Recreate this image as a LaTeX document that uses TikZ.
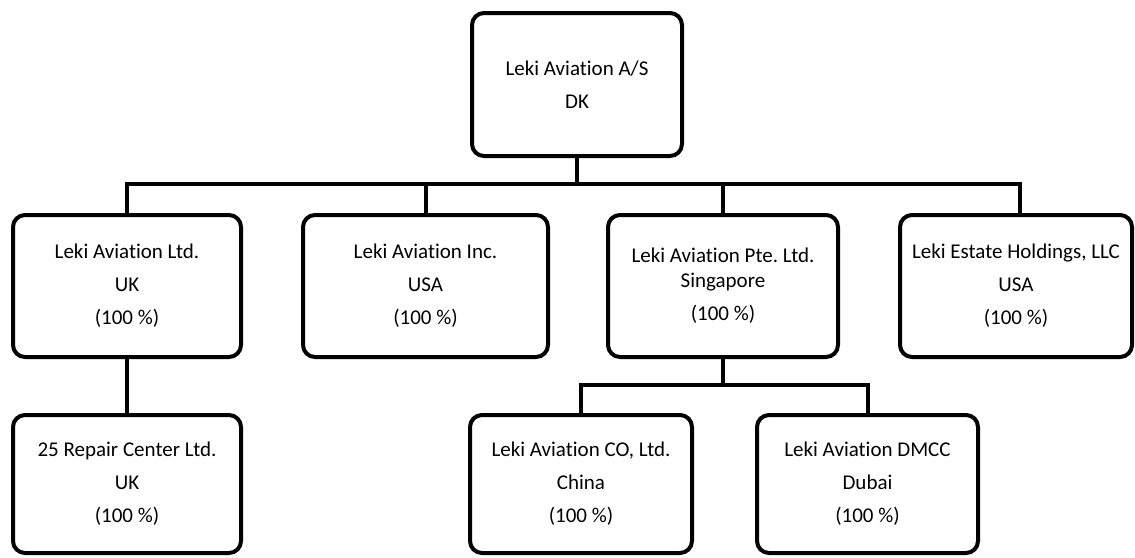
\documentclass[tikz,border=0pt]{standalone}
\usepackage{fontspec}
\setmainfont{Carlito}[Ligatures={NoCommon}]
\frenchspacing
\begin{document}
\begin{tikzpicture}[x=1pt,y=-1pt,
  box/.style={draw=black, line width=4pt, rounded corners=12pt, inner sep=0pt, outer sep=0pt,
    align=center, font=\fontsize{21}{33}\selectfont, fill=white},
  link/.style={draw=black, line width=4pt}]
\useasboundingbox (0,0) rectangle (1135,557);
\node[box, minimum width=210pt, minimum height=143pt] (top) at (577,84.5) {Leki Aviation A/S\\DK};
\node[box, minimum width=228pt, minimum height=142pt] (ltd) at (127,286) {Leki Aviation Ltd.\\UK\\(100 \%)};
\node[box, minimum width=245pt, minimum height=142pt] (inc) at (425.5,286) {Leki Aviation Inc.\\USA\\(100 \%)};
\node[box, minimum width=230pt, minimum height=142pt] (pte) at (723,286) {Leki Aviation Pte. Ltd.\\[-8pt]Singapore\\(100 \%)};
\node[box, minimum width=232pt, minimum height=142pt] (est) at (1016,286) {Leki Estate Holdings, LLC\\USA\\(100 \%)};
\node[box, minimum width=228pt, minimum height=138pt] (rep) at (127,484) {25 Repair Center Ltd.\\UK\\(100 \%)};
\node[box, minimum width=222pt, minimum height=138pt] (chn) at (581,484) {Leki Aviation CO, Ltd.\\China\\(100 \%)};
\node[box, minimum width=221pt, minimum height=138pt] (dub) at (867.5,484) {Leki Aviation DMCC\\Dubai\\(100 \%)};
\coordinate (b) at (577,184);
\coordinate (c) at (723,385);
\draw[link] (top.south) -- (b);
\draw[link] (ltd.north) -- (ltd.north |- b) -- ([xshift=4pt]est.north |- b) -- ([xshift=4pt]est.north);
\draw[link] (inc.north) -- (inc.north |- b);
\draw[link] (pte.north) -- (pte.north |- b);
\draw[link] (ltd.south) -- (rep.north);
\draw[link] (pte.south) -- (c);
\draw[link] (chn.north) -- (chn.north |- c) -- (dub.north |- c) -- (dub.north);
\end{tikzpicture}
\end{document}
